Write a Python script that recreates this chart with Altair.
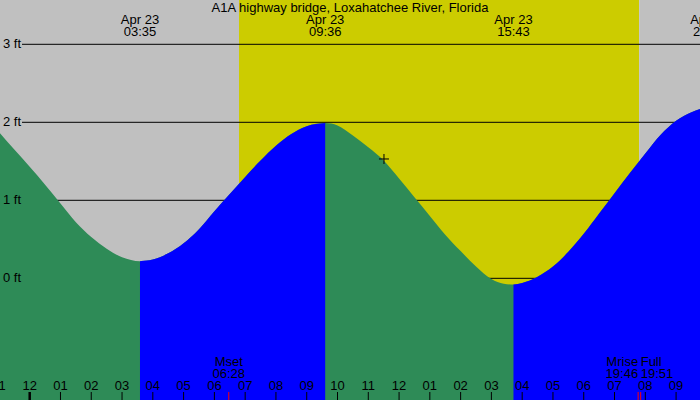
import altair as alt
import pandas as pd

TITLE = "A1A highway bridge, Loxahatchee River, Florida"

# time axis: hours after midnight Apr 23
X_MIN, X_MAX = -0.965, 21.777
Y_MIN, Y_MAX = -1.560, 3.568

# tide readings (hours, feet)
tide_hours = [-0.965, -0.5, 0.0, 0.5, 1.0, 1.5, 2.0, 2.5, 3.0, 3.583,
              4.0, 4.5, 5.0, 5.5, 6.0, 6.5, 7.0, 7.5, 8.0, 8.5, 9.0, 9.6,
              10.0, 10.5, 11.0, 11.5, 12.0, 12.5, 13.0, 13.5, 14.0, 14.5, 15.0, 15.4, 15.717,
              16.0, 16.5, 17.0, 17.5, 18.0, 18.5, 19.0, 19.5, 20.0, 20.5, 21.0, 21.5, 21.777]
tide_feet = [1.86, 1.65, 1.43, 1.20, 0.96, 0.72, 0.53, 0.38, 0.27, 0.22,
             0.24, 0.32, 0.45, 0.63, 0.86, 1.08, 1.30, 1.51, 1.70, 1.85, 1.95, 1.99,
             1.96, 1.83, 1.68, 1.51, 1.28, 1.04, 0.80, 0.56, 0.35, 0.15, -0.01, -0.07, -0.08,
             -0.06, 0.02, 0.15, 0.34, 0.57, 0.83, 1.09, 1.35, 1.60, 1.84, 2.02, 2.13, 2.17]

# tide extremes
extreme_hours = [3.583, 9.600, 15.717, 22.08]
extreme_dates = ["Apr 23", "Apr 23", "Apr 23", "Apr 23"]
extreme_times = ["03:35", "09:36", "15:43", "22:05"]

# sun (sunrise, sunset)
sun_hours = [6.80, 19.80]

# moon events
moon_hours = [6.467, 19.767, 19.85]
moon_names = ["Mset", "Mrise", "Full"]
moon_times = ["06:28", "19:46", "19:51"]
moon_align = ["center", "right", "left"]

# hour ticks
hour_ticks = list(range(-1, 22))
hour_labels = ["11", "12", "01", "02", "03", "04", "05", "06", "07", "08", "09", "10",
               "11", "12", "01", "02", "03", "04", "05", "06", "07", "08", "09"]

level_feet = [0, 1, 2, 3]
level_labels = ["0 ft", "1 ft", "2 ft", "3 ft"]

now_hour = [11.51]
now_feet = [1.53]

GRAY = "#C0C0C0"
YELLOW = "#CCCC00"
GREEN = "#2E8B57"
BLUE = "#0000FF"
FONT = "Liberation Sans"
FS = 13

# ---- build tables ----
full = pd.DataFrame({"hour": tide_hours, "feet": tide_feet})

bounds = [X_MIN] + [h for h in extreme_hours if X_MIN < h < X_MAX] + [X_MAX]
rows = []
for s in range(len(bounds) - 1):
    if s % 2 == 0:
        continue  # falling segments come from the green base area
    a, b = bounds[s], bounds[s + 1]
    for h, f in zip(tide_hours, tide_feet):
        if a - 1e-9 <= h <= b + 1e-9:
            rows.append({"hour": h, "feet": f, "seg": s})
rising = pd.DataFrame(rows)

band_starts = [X_MIN, sun_hours[0], sun_hours[1]]
band_ends = [sun_hours[0], sun_hours[1], X_MAX]
band_fill = [GRAY, YELLOW, GRAY]
bands = pd.DataFrame({"start": band_starts, "end": band_ends, "fill": band_fill})

extremes = pd.DataFrame({"hour": extreme_hours, "date": extreme_dates, "time": extreme_times})
moon = pd.DataFrame({"hour": moon_hours, "name": moon_names, "time": moon_times, "align": moon_align})
ticks = pd.DataFrame({"hour": hour_ticks, "label": hour_labels})
levels = pd.DataFrame({"feet": level_feet, "label": level_labels})
now = pd.DataFrame({"hour": now_hour, "feet": now_feet})

xs = alt.Scale(domain=[X_MIN, X_MAX], nice=False, zero=False)
ys = alt.Scale(domain=[Y_MIN, Y_MAX], nice=False, zero=False)


def X(field="hour"):
    return alt.X(f"{field}:Q", scale=xs, axis=None)


def Y(field="feet"):
    return alt.Y(f"{field}:Q", scale=ys, axis=None)


bg = alt.Chart(bands).mark_rect().encode(
    x=X("start"), x2="end:Q", y=alt.value(0), y2=alt.value(400),
    color=alt.Color("fill:N", scale=None, legend=None))

grid = alt.Chart(levels).mark_rule(color="black", strokeWidth=1).encode(
    y=Y(), x=alt.value(22), x2=alt.value(700))

area_green = alt.Chart(full).mark_area(interpolate="monotone", color=GREEN).encode(
    x=X(), y=alt.Y("feet:Q", scale=ys, axis=None, stack=None), y2=alt.datum(Y_MIN))

area_blue = alt.Chart(rising).mark_area(interpolate="monotone", color=BLUE).encode(
    x=X(), y=alt.Y("feet:Q", scale=ys, axis=None, stack=None), y2=alt.datum(Y_MIN),
    detail="seg:N")

level_text = alt.Chart(levels).mark_text(align="left", baseline="middle", font=FONT, fontSize=FS,
                                         color="black").encode(
    y=Y(), x=alt.value(3), text="label:N")

title = alt.Chart(pd.DataFrame({"t": [TITLE]})).mark_text(
    align="center", baseline="middle", font=FONT, fontSize=FS, color="black").encode(
    x=alt.value(350), y=alt.value(7.5), text="t:N")

ext_date = alt.Chart(extremes).mark_text(align="center", baseline="middle", font=FONT, fontSize=FS,
                                         color="black").encode(
    x=X(), y=alt.value(19.5), text="date:N")
ext_time = alt.Chart(extremes).mark_text(align="center", baseline="middle", font=FONT, fontSize=FS,
                                         color="black").encode(
    x=X(), y=alt.value(31.5), text="time:N")

tick_rules = alt.Chart(ticks).transform_filter("datum.hour != 0").mark_rule(
    color="black", strokeWidth=1).encode(x=X(), y=alt.value(392), y2=alt.value(400))
mid_rule = alt.Chart(ticks).transform_filter("datum.hour == 0").mark_rule(
    color="black", strokeWidth=2.5).encode(x=X(), y=alt.value(392), y2=alt.value(400))
tick_text = alt.Chart(ticks).mark_text(align="center", baseline="middle", font=FONT, fontSize=FS,
                                       color="black").encode(
    x=X(), y=alt.value(385.5), text="label:N")

moon_rules = alt.Chart(moon).mark_rule(color="red", strokeWidth=1).encode(
    x=X(), y=alt.value(392), y2=alt.value(400))

moon_layers = []
for al in ["center", "right", "left"]:
    base = alt.Chart(moon).transform_filter(alt.datum.align == al)
    moon_layers.append(base.mark_text(align=al, baseline="middle", font=FONT, fontSize=FS,
                                      color="black").encode(x=X(), y=alt.value(361.5), text="name:N"))
    moon_layers.append(base.mark_text(align=al, baseline="middle", font=FONT, fontSize=FS,
                                      color="black").encode(x=X(), y=alt.value(373.5), text="time:N"))

now_mark = alt.Chart(now).mark_point(shape="M-1,0L1,0M0,-1L0,1", size=100, filled=False,
                                     color="black", strokeWidth=1, opacity=1).encode(x=X(), y=Y())

chart = alt.layer(bg, grid, area_green, area_blue, level_text, title, ext_date, ext_time,
                  tick_rules, mid_rule, moon_rules, tick_text, *moon_layers, now_mark).properties(
    width=700, height=400, padding=0, autosize=alt.AutoSizeParams(type="none")
).configure_view(stroke=None)

chart.save("out.html", embed_options={"renderer": "svg", "actions": False})
